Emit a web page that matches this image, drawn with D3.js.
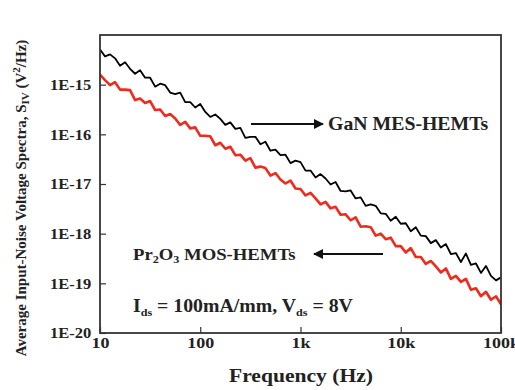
<!DOCTYPE html>
<html>
<head>
<meta charset="utf-8">
<script src="https://cdn.jsdelivr.net/npm/d3@7"></script>
<style>
  body { margin: 0; background: #fff; }
  text { font-family: "Liberation Serif", "Times New Roman", serif; font-weight: bold; fill: #222; }
</style>
</head>
<body>
<svg id="chart"></svg>
<script>
// frequency points (Hz), 20 per decade
var freqs = [
  10, 11.22, 12.59, 14.13, 15.85, 17.78, 19.95, 22.39, 25.12, 28.18,
  31.62, 35.48, 39.81, 44.67, 50.12, 56.23, 63.10, 70.79, 79.43, 89.13,
  100, 112.2, 125.9, 141.3, 158.5, 177.8, 199.5, 223.9, 251.2, 281.8,
  316.2, 354.8, 398.1, 446.7, 501.2, 562.3, 631.0, 707.9, 794.3, 891.3,
  1000, 1122, 1259, 1413, 1585, 1778, 1995, 2239, 2512, 2818,
  3162, 3548, 3981, 4467, 5012, 5623, 6310, 7079, 7943, 8913,
  10000, 11220, 12590, 14130, 15850, 17780, 19950, 22390, 25120, 28180,
  31620, 35480, 39810, 44670, 50120, 56230, 63100, 70790, 79430, 89130,
  100000
];

// log10 of S_IV (V^2/Hz)
var ganMes = [
  -14.29, -14.43, -14.39, -14.47, -14.62, -14.55, -14.68, -14.78, -14.71, -14.86,
  -14.86, -15.04, -14.98, -15.01, -15.16, -15.19, -15.16, -15.35, -15.35, -15.46,
  -15.39, -15.55, -15.65, -15.60, -15.69, -15.81, -15.76, -15.89, -15.87, -16.07,
  -16.05, -16.05, -16.20, -16.15, -16.33, -16.31, -16.42, -16.41, -16.58, -16.53,
  -16.56, -16.73, -16.73, -16.87, -16.80, -16.89, -17.01, -16.96, -17.14, -17.15,
  -17.13, -17.29, -17.27, -17.44, -17.41, -17.44, -17.59, -17.60, -17.74, -17.66,
  -17.80, -17.79, -17.95, -17.87, -18.04, -18.05, -18.19, -18.13, -18.28, -18.21,
  -18.41, -18.39, -18.57, -18.40, -18.63, -18.60, -18.79, -18.65, -18.85, -18.94,
  -18.88
];
var pr2o3Mos = [
  -14.80, -14.91, -15.01, -14.95, -15.10, -15.10, -15.11, -15.31, -15.28, -15.37,
  -15.33, -15.51, -15.50, -15.63, -15.59, -15.68, -15.81, -15.75, -15.88, -15.86,
  -16.03, -16.03, -16.04, -16.22, -16.17, -16.29, -16.25, -16.42, -16.41, -16.53,
  -16.48, -16.67, -16.65, -16.68, -16.83, -16.78, -16.91, -16.99, -16.93, -17.09,
  -17.10, -17.23, -17.18, -17.29, -17.41, -17.36, -17.49, -17.46, -17.62, -17.61,
  -17.73, -17.67, -17.86, -17.85, -17.87, -18.04, -18.00, -18.11, -18.08, -18.25,
  -18.25, -18.38, -18.29, -18.47, -18.47, -18.61, -18.55, -18.66, -18.78, -18.70,
  -18.91, -18.85, -18.97, -18.91, -19.13, -19.10, -19.26, -19.17, -19.33, -19.26,
  -19.42
];

var xTicks = [10, 100, 1000, 10000, 100000];
var xTickLabels = ['10', '100', '1k', '10k', '100k'];
var yTicks = [1e-20, 1e-19, 1e-18, 1e-17, 1e-16, 1e-15];
var yTickLabels = ['1E-20', '1E-19', '1E-18', '1E-17', '1E-16', '1E-15'];

var width = 515, height = 390;
var plot = {left: 100, right: 501, top: 35, bottom: 333};

var svg = d3.select('#chart')
    .attr('width', width)
    .attr('height', height);

var x = d3.scaleLog()
    .domain([10, 100000])
    .range([plot.left, plot.right]);
var y = d3.scaleLog()
    .domain([1e-20, 1e-14])
    .range([plot.bottom, plot.top]);

// minor ticks 2..9 in every decade
function minorTicks(lo, hi) {
    var out = [];
    for (var d = lo; d < hi; d *= 10) {
        for (var k = 2; k < 10; k++) out.push(d * k);
    }
    return out;
}

// the figure's lettering is a bit wider than Times, so stretch it
function label(px, py, size, sx, anchor) {
    return svg.append('text')
        .attr('transform', 'translate(' + px + ',' + py + ') scale(' + sx + ',1)')
        .attr('text-anchor', anchor || 'start')
        .attr('font-size', size);
}

var line = d3.line()
    .x(function(d) { return x(d[0]); })
    .y(function(d) { return y(Math.pow(10, d[1])); });

var defs = svg.append('defs');
defs.append('clipPath')
    .attr('id', 'plotClip')
    .append('rect')
    .attr('x', plot.left)
    .attr('y', plot.top)
    .attr('width', plot.right - plot.left)
    .attr('height', plot.bottom - plot.top);

var lines = svg.append('g')
    .attr('clip-path', 'url(#plotClip)');

lines.append('path')
    .datum(d3.zip(freqs, pr2o3Mos))
    .attr('d', line)
    .attr('fill', 'none')
    .attr('stroke', '#f02a1c')
    .attr('stroke-width', 2.6)
    .attr('stroke-linejoin', 'round');

lines.append('path')
    .datum(d3.zip(freqs, ganMes))
    .attr('d', line)
    .attr('fill', 'none')
    .attr('stroke', '#000')
    .attr('stroke-width', 1.8)
    .attr('stroke-linejoin', 'round');

// ticks point inward
var xAxis = svg.append('g')
    .attr('transform', 'translate(0,' + plot.bottom + ')');
xAxis.call(d3.axisBottom(x)
        .tickValues(minorTicks(10, 100000))
        .tickSize(-3)
        .tickFormat(''));
xAxis.call(d3.axisBottom(x)
        .tickValues(xTicks)
        .tickSize(-6)
        .tickPadding(4)
        .tickFormat(function(d, i) { return xTickLabels[i]; }));
xAxis.selectAll('.tick text')
    .attr('font-size', 15)
    .attr('transform', 'scale(1.2,1)');

var yAxis = svg.append('g')
    .attr('transform', 'translate(' + plot.left + ',0)');
yAxis.call(d3.axisLeft(y)
        .tickValues(minorTicks(1e-20, 1e-14))
        .tickSize(-3)
        .tickFormat(''));
yAxis.call(d3.axisLeft(y)
        .tickValues(yTicks)
        .tickSize(-6)
        .tickPadding(8)
        .tickFormat(function(d, i) { return yTickLabels[i]; }));
yAxis.selectAll('.tick text')
    .attr('font-size', 15)
    .attr('transform', 'scale(1.1,1)');

svg.selectAll('.domain').remove();
svg.selectAll('.tick line').attr('stroke', '#333').attr('stroke-width', 1.2);
svg.selectAll('.tick text')
    .attr('font-family', '"Liberation Serif", serif')
    .attr('font-weight', 'bold')
    .attr('fill', '#222');

svg.append('rect')
    .attr('x', plot.left)
    .attr('y', plot.top)
    .attr('width', plot.right - plot.left)
    .attr('height', plot.bottom - plot.top)
    .attr('fill', 'none')
    .attr('stroke', '#333')
    .attr('stroke-width', 1.8);

// axis titles
label(301, 382, 18, 1.2, 'middle').text('Frequency (Hz)');

var yTitle = svg.append('text')
    .attr('transform', 'translate(26,198) rotate(-90)')
    .attr('text-anchor', 'middle')
    .attr('font-size', 15);
yTitle.append('tspan').text('Average Input-Noise Voltage Spectra, S');
yTitle.append('tspan').attr('font-size', 11).attr('dy', 3).text('IV');
yTitle.append('tspan').attr('dy', -3).text(' (V');
yTitle.append('tspan').attr('font-size', 11).attr('dy', -6).text('2');
yTitle.append('tspan').attr('dy', 6).text('/Hz)');

// annotations
defs.append('marker')
    .attr('id', 'arrow')
    .attr('viewBox', '0 0 10 10')
    .attr('refX', 9)
    .attr('refY', 5)
    .attr('markerWidth', 5)
    .attr('markerHeight', 5)
    .attr('orient', 'auto')
    .append('path')
    .attr('d', 'M0,0L10,5L0,10Z')
    .attr('fill', '#111');

svg.append('line')
    .attr('x1', 251).attr('y1', 124)
    .attr('x2', 323).attr('y2', 124)
    .attr('stroke', '#111')
    .attr('stroke-width', 2)
    .attr('marker-end', 'url(#arrow)');
label(328, 130, 18, 1.1).text('GaN MES-HEMTs');

svg.append('line')
    .attr('x1', 383).attr('y1', 254)
    .attr('x2', 314).attr('y2', 254)
    .attr('stroke', '#111')
    .attr('stroke-width', 2)
    .attr('marker-end', 'url(#arrow)');
var prLabel = label(133, 260, 17, 1.1);
prLabel.append('tspan').text('Pr');
prLabel.append('tspan').attr('font-size', 11).attr('dy', 3).text('2');
prLabel.append('tspan').attr('dy', -3).text('O');
prLabel.append('tspan').attr('font-size', 11).attr('dy', 3).text('3');
prLabel.append('tspan').attr('dy', -3).text(' MOS-HEMTs');

var biasLabel = label(133, 312, 18, 1.1);
biasLabel.append('tspan').text('I');
biasLabel.append('tspan').attr('font-size', 11).attr('dy', 4).text('ds');
biasLabel.append('tspan').attr('dy', -4).text(' = 100mA/mm, V');
biasLabel.append('tspan').attr('font-size', 11).attr('dy', 4).text('ds');
biasLabel.append('tspan').attr('dy', -4).text(' = 8V');
</script>
</body>
</html>
